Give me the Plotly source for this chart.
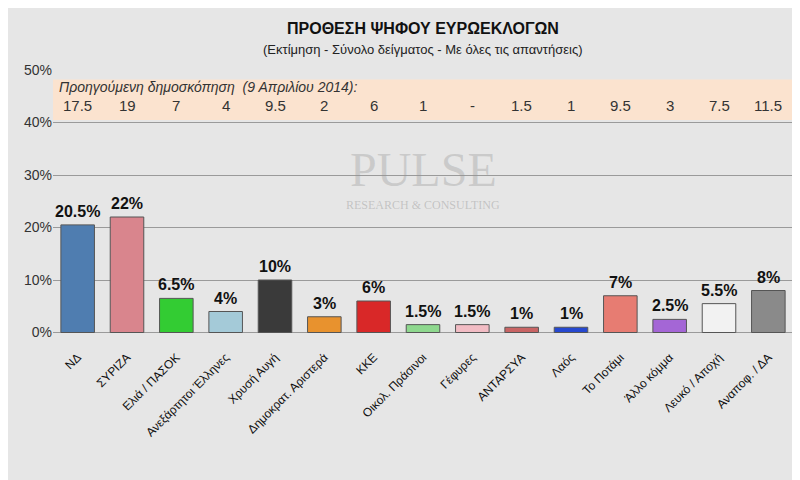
import plotly.graph_objects as go

categories = ["ΝΔ", "ΣΥΡΙΖΑ", "Ελιά / ΠΑΣΟΚ", "Ανεξάρτητοι Έλληνες", "Χρυσή Αυγή",
              "Δημοκρατ. Αριστερά", "ΚΚΕ", "Οικολ. Πράσινοι", "Γέφυρες", "ΑΝΤΑΡΣΥΑ",
              "Λαός", "Το Ποτάμι", "Άλλο κόμμα", "Λευκό / Αποχή", "Αναποφ. / ΔΑ"]
values = [20.5, 22, 6.5, 4, 10, 3, 6, 1.5, 1.5, 1, 1, 7, 2.5, 5.5, 8]
value_labels = ["20.5%", "22%", "6.5%", "4%", "10%", "3%", "6%", "1.5%", "1.5%", "1%",
                "1%", "7%", "2.5%", "5.5%", "8%"]
previous = ["17.5", "19", "7", "4", "9.5", "2", "6", "1", "-", "1.5", "1", "9.5", "3", "7.5", "11.5"]
colors = ["#4f7db0", "#d9858d", "#33cc33", "#a4cad8", "#3a3a3a", "#e8922e", "#d92828",
          "#8ed88e", "#f2bcc4", "#c96464", "#2648d0", "#e77c72", "#a466d6", "#f2f2f2", "#8a8a8a"]
y_ticks = [0, 10, 20, 30, 40, 50]

fig = go.Figure()
fig.add_trace(go.Bar(
    x=categories, y=values, marker=dict(color=colors, line=dict(color="#555555", width=1)),
    width=0.68,
))
for c, v, t in zip(categories, values, value_labels):
    fig.add_annotation(x=c, y=v, text=f"<b>{t}</b>", showarrow=False, yanchor="bottom", yshift=3,
                       font=dict(family="Arial, Liberation Sans", size=16, color="#111111"))
fig.add_shape(type="rect", xref="paper", yref="y", x0=0, x1=1, y0=40.5, y1=48.2,
              fillcolor="#fbe3cf", line=dict(width=0), layer="below")
fig.add_annotation(xref="paper", yref="y", x=0.005, y=46.8, xanchor="left",
                   text="<i>Προηγούμενη δημοσκόπηση  (9 Απριλίου 2014):</i>", showarrow=False,
                   font=dict(family="Arial, Liberation Sans", size=14, color="#333333"))
for c, p in zip(categories, previous):
    fig.add_annotation(x=c, y=43.3, text=p, showarrow=False,
                       font=dict(family="Arial, Liberation Sans", size=15, color="#333333"))
fig.add_annotation(xref="paper", yref="y", x=0.5, y=31, text="PULSE", showarrow=False,
                   font=dict(family="Liberation Serif", size=48, color="rgba(150,150,150,0.35)"))
fig.add_annotation(xref="paper", yref="y", x=0.5, y=24.3, text="RESEARCH &amp; CONSULTING",
                   showarrow=False,
                   font=dict(family="Liberation Serif", size=12, color="rgba(150,150,150,0.45)"))
fig.add_annotation(xref="paper", yref="paper", x=0.5, y=1.115, yanchor="bottom",
                   text="<b>ΠΡΟΘΕΣΗ ΨΗΦΟΥ ΕΥΡΩΕΚΛΟΓΩΝ</b>", showarrow=False,
                   font=dict(family="Arial, Liberation Sans", size=16, color="#111111"))
fig.add_annotation(xref="paper", yref="paper", x=0.5, y=1.04, yanchor="bottom",
                   text="(Εκτίμηση - Σύνολο δείγματος - Με όλες τις απαντήσεις)", showarrow=False,
                   font=dict(family="Arial, Liberation Sans", size=13, color="#222222"))

fig.update_layout(
    width=800, height=480, margin=dict(l=45, r=15, t=62, b=145),
    paper_bgcolor="#e6e6e6", plot_bgcolor="#e6e6e6", showlegend=False,
    font=dict(family="Arial, Liberation Sans", color="#222222"),
    xaxis=dict(tickangle=-45, tickfont=dict(size=12, color="#111111"), showgrid=False,
               showline=False, ticklabelstandoff=4),
    yaxis=dict(range=[-2, 50], tickvals=y_ticks, ticktext=[f"{t}%" for t in y_ticks],
               gridcolor="#9a9a9a", gridwidth=1, zeroline=False,
               tickfont=dict(size=14, color="#333333")),
)
fig.write_html("out.html")
